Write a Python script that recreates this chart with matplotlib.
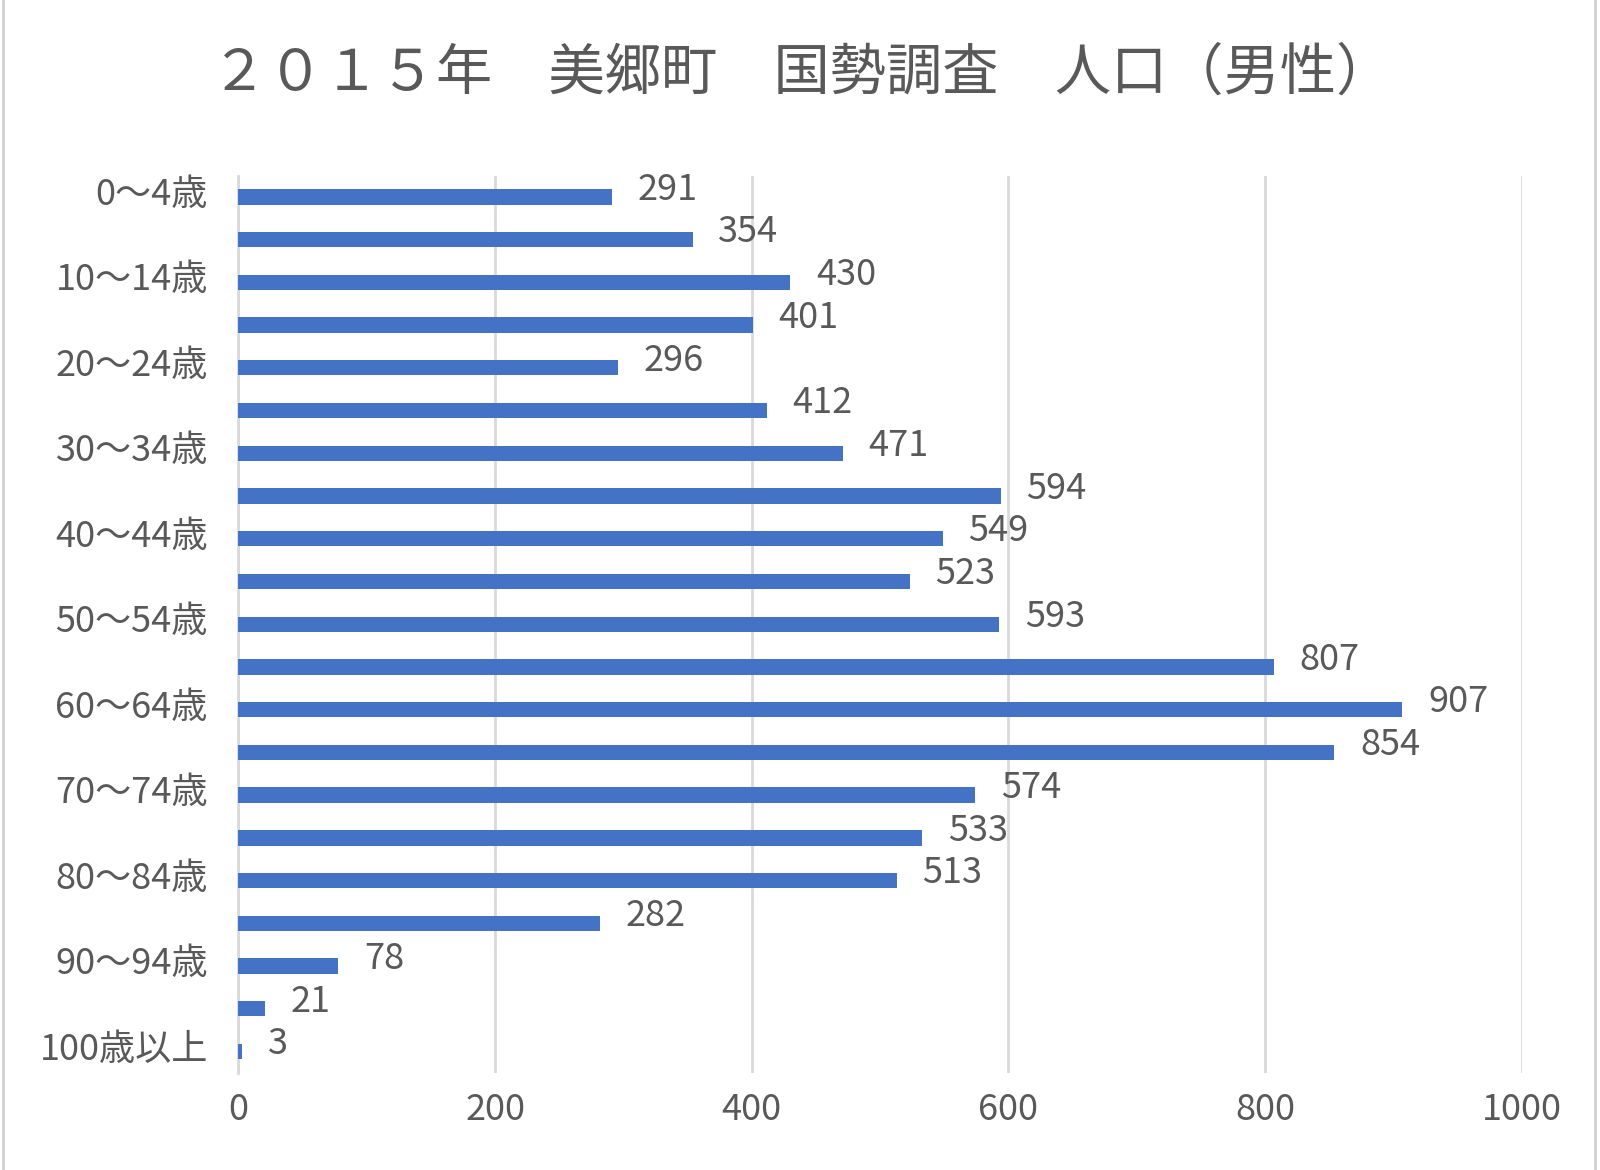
import matplotlib
matplotlib.use("Agg")
import matplotlib.pyplot as plt
import matplotlib.transforms as mtransforms
from matplotlib.patches import Rectangle

plt.rcParams['font.family'] = ['Noto Sans CJK JP', 'DejaVu Sans']

# データ
ages = ['0～4歳', '5～9歳', '10～14歳', '15～19歳', '20～24歳', '25～29歳',
        '30～34歳', '35～39歳', '40～44歳', '45～49歳', '50～54歳', '55～59歳',
        '60～64歳', '65～69歳', '70～74歳', '75～79歳', '80～84歳', '85～89歳',
        '90～94歳', '95～99歳', '100歳以上']
male = [291, 354, 430, 401, 296, 412, 471, 594, 549, 523, 593, 807,
        907, 854, 574, 533, 513, 282, 78, 21, 3]
xticks = [0, 200, 400, 600, 800, 1000]

txt = '#595959'
fig = plt.figure(figsize=(16, 11.7), dpi=100)
ax = fig.add_axes([0.149, 0.083, 0.802, 0.767])

pos = list(range(len(ages)))
ax.barh(pos, male, height=0.36, color='#4472C4', zorder=3)
for p, v in zip(pos, male):
    ax.text(v + 20, p - 0.17, str(v), va='center', ha='left', fontsize=26, color=txt)

ax.set_xlim(0, 1000)
ax.set_ylim(20.5, -0.5)
ax.set_xticks(xticks)
ax.set_xticklabels([str(t) for t in xticks])
ax.set_yticks(pos[::2])
ax.set_yticklabels(ages[::2])
ax.tick_params(axis='both', length=0, labelsize=26, labelcolor=txt)
ax.tick_params(axis='x', pad=14)
ax.tick_params(axis='y', pad=22)
up = mtransforms.ScaledTranslation(0, 6 / 100, fig.dpi_scale_trans)
for lab in ax.get_yticklabels():
    lab.set_transform(lab.get_transform() + up)
ax.grid(axis='x', color='#d9d9d9', linewidth=2, zorder=0)
for s in ['top', 'right', 'bottom']:
    ax.spines[s].set_visible(False)
ax.spines['left'].set_color('#d9d9d9')
ax.spines['left'].set_linewidth(2)

fig.text(0.501, 0.937, '２０１５年　美郷町　国勢調査　人口（男性）',
         ha='center', va='center', fontsize=40.5, color=txt)

fig.patches.append(Rectangle((0.002, -0.01), 0.995, 1.02, transform=fig.transFigure,
                             fill=False, edgecolor='#d0d0d0', linewidth=2))

fig.savefig('out.png', dpi=100)
